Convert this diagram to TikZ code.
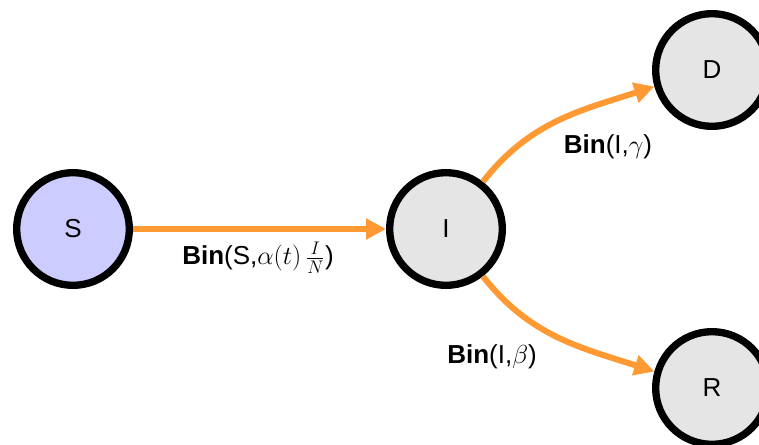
\documentclass[tikz,border=0pt]{standalone}
\usepackage{fix-cm}
\usepackage{fontspec}
\setmainfont{Liberation Sans}
\usetikzlibrary{arrows.meta}

\definecolor{flowOrange}{RGB}{255,153,51}
\definecolor{stateBlue}{RGB}{204,204,255}
\definecolor{stateGrey}{RGB}{229,229,229}

\tikzset{
    state/.style={circle, draw=black, line width=5.5pt, minimum size=84.5pt,
        inner sep=0pt, fill=stateGrey},
    flow/.style={draw=flowOrange, line width=4.5pt,
        -{Triangle[length=15pt, width=15pt]}}
}

\begin{document}
\begin{tikzpicture}[x=0.75pt, y=0.75pt, font=\fontsize{19.5}{23}\selectfont]
    \useasboundingbox (0, 0) rectangle (759, 444);

    % Stany
    \node[state, fill=stateBlue] (S) at (73, 215) {S};

    \node[state] (I) at (446, 215) {I};

    \node[state] (D) at (712, 374) {D};

    \node[state] (R) at (712, 56) {R};



    % Przejscia
    \draw[flow] (S) -- (I);

    \draw[flow] (I.52) to[out=52, in=198] (D.196);

    \draw[flow] (I.-52) to[out=-52, in=162] (R.164);



    % Oznaczenia
    \node (lblSI) at (258, 186) {\textbf{Bin}(S,$\alpha(t)\,\frac{I}{N}$)};

    \node (lblID) at (608, 297) {\textbf{Bin}(I,$\gamma$)};

    \node (lblIR) at (492, 87) {\textbf{Bin}(I,$\beta$)};
  \end{tikzpicture}
\end{document}
